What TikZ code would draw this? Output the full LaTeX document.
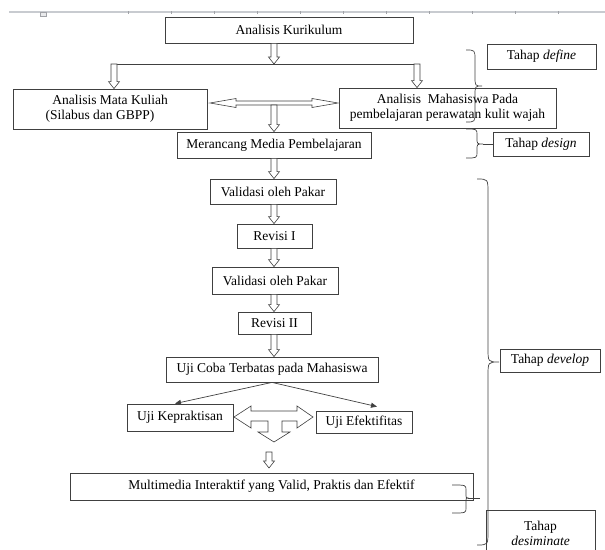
\documentclass[tikz,border=0pt]{standalone}
\usepackage{fontspec}
\setmainfont{Liberation Serif}
\usetikzlibrary{arrows.meta,calc}
\definecolor{edge}{RGB}{64,64,64}
\definecolor{ruler}{RGB}{200,203,208}
\newcommand{\hollowdown}[2]{\draw[blockarrow] let \p1=#1, \p2=#2 in (\x1-3pt,\y1)--(\x1-3pt,\y2+7pt)--(\x1-5.5pt,\y2+7pt)--(\x1,\y2)--(\x1+5.5pt,\y2+7pt)--(\x1+3pt,\y2+7pt)--(\x1+3pt,\y1)--cycle;}
\newcommand{\hollowdouble}[2]{\draw[blockarrow] let \p1=#1, \p2=#2 in (\x1,\y1)--++(26pt,4.5pt)--++(0,-2.5pt)--(\x2-26pt,\y1+2pt)--++(0,2.5pt)--(\x2,\y1)--++(-26pt,-4.5pt)--++(0,2.5pt)--(\x1+26pt,\y1-2pt)--++(0,-2.5pt)--cycle;}
\newcommand{\drawbrace}[7]{\draw[bracepen] (#1,-#4) .. controls (#2,-#4) .. (#2,-#4-#7) -- (#2,-#5+#7) .. controls (#2,-#5) .. (#3,-#5) .. controls (#2,-#5) .. (#2,-#5-#7) -- (#2,-#6+#7) .. controls (#2,-#6) .. (#1,-#6);}

\begin{document}
\begin{tikzpicture}[x=1pt,y=1pt,
  font=\fontsize{13.5}{15}\selectfont,
  box/.style={draw=edge, line width=0.8pt, inner sep=0pt, align=center, fill=white},
  blockarrow/.style={draw=edge, line width=0.6pt, fill=white, line join=miter},
  bracepen/.style={draw=edge, line width=0.7pt},
  tiparrow/.style={draw=edge, line width=0.7pt, -{Triangle[length=6pt,width=5pt]}}]
\clip (0,0) rectangle (605,-549);
% ruler of the page
\draw[ruler, line width=1.5pt] (9,-12) -- (605,-12);
\foreach \x in {128,171,...,600}{
  \draw[ruler!80!black, line width=0.4pt] (\x,-11) -- (\x,-13.5);
}
\draw[ruler!80!black, fill=ruler!40, line width=0.4pt] (40,-12) rectangle (46,-16);

% tahap define
\node[box, minimum width=248, minimum height=26] (kur) at (289,-30) {Analisis Kurikulum};
\node[box, minimum width=194, minimum height=40] (mk) at (110,-109) {Analisis Mata Kuliah\\\hspace*{-20pt}(Silabus dan GBPP)};
\node[box, minimum width=217, minimum height=40] (mah) at (447.5,-108) {Analisis\ \ Mahasiswa Pada\\pembelajaran perawatan kulit wajah};
\coordinate (split) at (274,-64);
\coordinate (splitL) at (114,-64);
\coordinate (splitR) at (417,-64);
\coordinate (dblL) at (210,-103);
\coordinate (dblR) at (338,-103);
\coordinate (dblmid) at (274,-105);
\draw[draw=edge, line width=0.8pt] (splitL) -- (splitR);
\hollowdown{(kur.south -| split)}{(split)}
\hollowdown{(splitL)}{(splitL |- mk.north)}
\hollowdown{(splitR)}{(splitR |- mah.north)}
\hollowdouble{(dblL)}{(dblR)}

% tahap design
\node[box, minimum width=194, minimum height=26] (mer) at (274,-145) {Merancang Media Pembelajaran};
\hollowdown{(dblmid)}{(dblmid |- mer.north)}

% tahap develop
\node[box, minimum width=126, minimum height=25] (val1) at (273,-191.5) {Validasi oleh Pakar};
\node[box, minimum width=75, minimum height=24] (rev1) at (274.5,-236) {Revisi I};
\node[box, minimum width=126, minimum height=27] (val2) at (275,-280.5) {Validasi oleh Pakar};
\node[box, minimum width=73, minimum height=22] (rev2) at (274.5,-323) {Revisi II};
\node[box, minimum width=212, minimum height=25] (uji) at (272,-369.5) {Uji Coba Terbatas pada Mahasiswa};
\foreach \a/\b in {mer/val1,val1/rev1,rev1/val2,val2/rev2,rev2/uji}{
  \hollowdown{(\a.south -| mer.south)}{(\b.north -| mer.south)}
}
\node[box, minimum width=106, minimum height=27] (kep) at (180,-417.5) {Uji Kepraktisan};
\node[box, minimum width=96, minimum height=22] (efk) at (364,-422) {Uji Efektifitas};
\draw[tiparrow] (uji.south) -- ([xshift=-5pt]kep.north);
\draw[tiparrow] (uji.south) -- ([xshift=13pt,yshift=4pt]efk.north);
\draw[blockarrow] (234,-417) --++(17,11) --++(0,-5) --++(46,0) --++(0,5) --++(16,-11) --++(-16,-11) --++(0,7) --++(-15,0) --++(0,-11) --++(8,0) --++(-16,-10) --++(-16,10) --++(10,0) --++(0,11) --++(-17,0) --++(0,-7) --cycle;
\coordinate (tdown) at (269,-452);
\coordinate (tend) at (269,-468);
\hollowdown{(tdown)}{(tend)}
\node[box, minimum width=403, minimum height=27] (mm) at (271.5,-486.5) {Multimedia Interaktif yang Valid, Praktis dan Efektif};

% tahap labels and braces
\node[box, minimum width=109, minimum height=25] (define) at (541.5,-56.5) {Tahap \textit{define}};
\node[box, minimum width=96, minimum height=24] (design) at (541,-144) {Tahap \textit{design}};
\node[box, minimum width=100, minimum height=23] (develop) at (550,-360.5) {Tahap \textit{develop}};
\node[box, minimum width=109, minimum height=46] (desim) at (540.5,-533) {Tahap\\\textit{desiminate}};
\drawbrace{466}{475}{482}{50}{86}{122}{10}
\drawbrace{466}{477}{483}{129}{144}{158}{6}
\drawbrace{477}{488}{499}{179}{362}{545}{14}
\drawbrace{452}{466}{468}{485}{498}{513}{5}
\coordinate (designtip) at (483,-144);
\coordinate (mmtip) at (468,-498);
\coordinate (mmend) at (480,-498);
\draw[bracepen] (designtip) -- (design.west);
\draw[bracepen] (mmtip) -- (mmend);
\end{tikzpicture}
\end{document}
